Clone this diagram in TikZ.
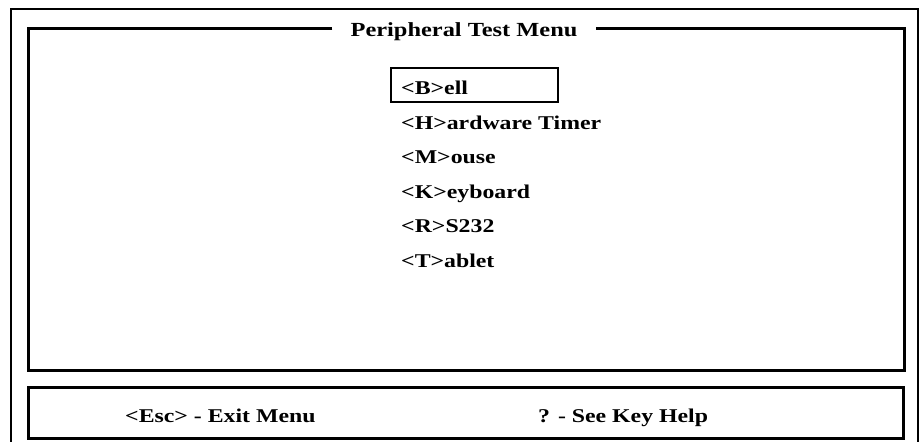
\documentclass[tikz,border=0pt]{standalone}
\usepackage{fontspec}
\newfontfamily\menufont{Liberation Serif}[FakeStretch=1.22]
\begin{document}
\begin{tikzpicture}[x=1pt,y=-1pt,
  menutext/.style={font=\menufont\bfseries\fontsize{19.5}{23}\selectfont, inner sep=0pt, anchor=base west},
  titletext/.style={font=\menufont\bfseries\fontsize{20}{24}\selectfont, inner ysep=0pt, inner xsep=18pt, anchor=base},
  frame/.style={line width=3pt, line join=miter},
  selbox/.style={draw, line width=2.5pt}
]
\useasboundingbox (0,0) rectangle (919,442);
\fill[white] (0,0) rectangle (919,442);

% outer window border (runs off the lower edge)
\draw[line width=2.5pt] (11,460) -- (11,9) -- (918,9) -- (918,460);

% main panel with its title set into the top rule
\node[titletext] (title) at (464,36.7) {Peripheral Test Menu};
\coordinate (tl) at (28,28);
\coordinate (br) at (904,370);
\draw[frame] (title.west |- tl) -- (tl) -- (tl |- br) -- (br) -- (br |- tl) -- (title.east |- tl);

% menu entries
\node[menutext] (bell)  at (401,94.5)  {<B>ell};
\node[menutext] (timer) at (401,129)   {<H>ardware Timer};
\node[menutext] (mouse) at (401,163.5) {<M>ouse};
\node[menutext] (kbd)   at (401,198)   {<K>eyboard};
\node[menutext] (rs)    at (401,232.5) {<R>S232};
\node[menutext] (tab)   at (401,267)   {<T>ablet};

% highlight around the selected entry
\draw[selbox] (391,68) rectangle (558,102);

% key help bar
\draw[frame] (28,387) rectangle (903,438);
\node[menutext] (esc)  at (125,422.5) {<Esc> - Exit Menu};
\node[menutext] (help) at (538,422.5) {? - See Key Help};
\end{tikzpicture}
\end{document}
